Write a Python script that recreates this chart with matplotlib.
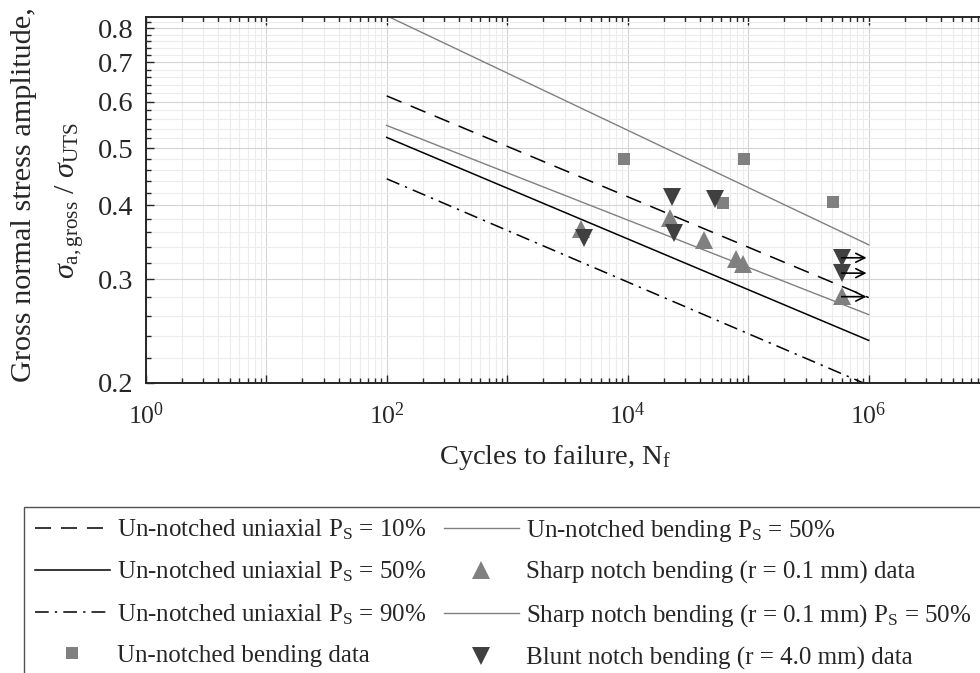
import matplotlib
matplotlib.use("Agg")
import matplotlib.pyplot as plt
import numpy as np
from matplotlib.ticker import FixedLocator, FixedFormatter, NullFormatter, LogLocator

plt.rcParams['font.family'] = ['Liberation Serif', 'DejaVu Serif']
plt.rcParams['mathtext.fontset'] = 'custom'
plt.rcParams['mathtext.rm'] = 'Liberation Serif'
plt.rcParams['mathtext.it'] = 'Liberation Serif:italic'
plt.rcParams['mathtext.bf'] = 'Liberation Serif:bold'

# ---------------- data ----------------
curve_N = [1e2, 1e6]
uni_ps10 = [0.614, 0.279]
uni_ps50 = [0.522, 0.236]
uni_ps90 = [0.444, 0.198]
bend_ps50 = [0.840, 0.343]
sharp_ps50 = [0.547, 0.261]

unnotched_N = [9310, 92900, 61400, 502000]
unnotched_S = [0.480, 0.480, 0.404, 0.406]

sharp_N = [4070, 22400, 43000, 78700, 91000, 597000]
sharp_S = [0.365, 0.381, 0.349, 0.325, 0.318, 0.281]

blunt_N = [4340, 23400, 24200, 53300, 597000, 597000]
blunt_S = [0.352, 0.414, 0.359, 0.410, 0.326, 0.307]

runout_N = [597000, 597000, 597000]
runout_S = [0.326, 0.307, 0.280]
runout_end = 9.6e5

x_major = [1e0, 1e1, 1e2, 1e3, 1e4, 1e5, 1e6, 1e7]
x_labels = ['$10^{0}$', '', '$10^{2}$', '', '$10^{4}$', '', '$10^{6}$', '']
y_major = [0.2, 0.3, 0.4, 0.5, 0.6, 0.7, 0.8]
y_labels = ['0.2', '0.3', '0.4', '0.5', '0.6', '0.7', '0.8']
y_minor = [0.22, 0.24, 0.26, 0.28, 0.32, 0.34, 0.36, 0.38, 0.42, 0.44, 0.46, 0.48,
           0.52, 0.54, 0.56, 0.58, 0.62, 0.64, 0.66, 0.68, 0.72, 0.74, 0.76, 0.78, 0.82]

labels = {
    'u10': 'Un-notched uniaxial P$_\\mathrm{S}$ = 10%',
    'u50': 'Un-notched uniaxial P$_\\mathrm{S}$ = 50%',
    'u90': 'Un-notched uniaxial P$_\\mathrm{S}$ = 90%',
    'ubd': 'Un-notched bending data',
    'ub50': 'Un-notched bending P$_\\mathrm{S}$ = 50%',
    'sd': 'Sharp notch bending (r = 0.1 mm) data',
    's50': 'Sharp notch bending (r = 0.1 mm) P$_\\mathrm{S}$ = 50%',
    'bd': 'Blunt notch bending (r = 4.0 mm) data',
}

# ---------------- figure ----------------
W, H = 980, 673
fig = plt.figure(figsize=(W / 100, H / 100), dpi=100)
ax = fig.add_axes([145.7 / W, 1 - 382.7 / H, 843.5 / W, 365.4 / H])
ax.set_xscale('log')
ax.set_yscale('log')
ax.set_xlim(1e0, 1e7)
ax.set_ylim(0.2, 0.835)

gray = '#808080'
dark = '#404040'
dash_style = (0, (10.5, 6.5))
dashdot_style = (0, (9, 4, 1.5, 4))

h_u10, = ax.plot(curve_N, uni_ps10, color='k', lw=1.1, linestyle=dash_style)
h_u50, = ax.plot(curve_N, uni_ps50, color='k', lw=1.1, linestyle='-')
h_u90, = ax.plot(curve_N, uni_ps90, color='k', lw=1.1, linestyle=dashdot_style)
h_ub50, = ax.plot(curve_N, bend_ps50, color=gray, lw=1.0)
h_s50, = ax.plot(curve_N, sharp_ps50, color=gray, lw=1.0)

h_ubd, = ax.plot(unnotched_N, unnotched_S, 's', color=gray, markersize=8.5, markeredgewidth=0, linestyle='none')
h_sd, = ax.plot(sharp_N, sharp_S, '^', color=gray, markersize=13, markeredgewidth=0, linestyle='none')
h_bd, = ax.plot(blunt_N, blunt_S, 'v', color=dark, markersize=13, markeredgewidth=0, linestyle='none')

for n, s in zip(runout_N, runout_S):
    ax.annotate('', xy=(runout_end, s), xytext=(n, s),
                arrowprops=dict(arrowstyle='->', color='k', lw=1.2,
                                mutation_scale=16, shrinkA=0, shrinkB=0))

# ticks
ax.xaxis.set_major_locator(FixedLocator(x_major))
ax.xaxis.set_major_formatter(FixedFormatter(x_labels))
ax.xaxis.set_minor_locator(LogLocator(base=10, subs=np.arange(2, 10)))
ax.xaxis.set_minor_formatter(NullFormatter())
ax.yaxis.set_major_locator(FixedLocator(y_major))
ax.yaxis.set_major_formatter(FixedFormatter(y_labels))
ax.yaxis.set_minor_locator(FixedLocator(y_minor))
ax.yaxis.set_minor_formatter(NullFormatter())

ax.tick_params(which='both', direction='in', top=True, right=True, colors='#262626',
               width=1.0)
ax.tick_params(which='major', length=6)
ax.tick_params(which='minor', length=3.5)
ax.tick_params(axis='x', which='major', pad=14, labelsize=18.5)
ax.tick_params(axis='y', which='major', pad=9, labelsize=20.5)
for lab in ax.get_xticklabels() + ax.get_yticklabels():
    lab.set_color('#262626')
for sp in ax.spines.values():
    sp.set_linewidth(1.4)
    sp.set_color('#262626')

ax.grid(True, which='major', color='#d4d4d4', lw=0.8)
ax.grid(True, which='minor', color='#ececec', lw=0.8)
ax.set_axisbelow(True)

# labels
fig.text(555 / W, 1 - 458 / H, 'Cycles to failure, N$_\\mathrm{f}$', fontsize=20.5,
         ha='center', va='center', color='#262626')
fig.text(24 / W, 1 - 195 / H, 'Gross normal stress amplitude,', fontsize=21.8,
         rotation=90, ha='center', va='center', color='#262626')
fig.text(70 / W, 1 - 200 / H,
         '$\\sigma_{\\mathrm{a,gross}}$ / $\\sigma_{\\mathrm{UTS}}$', fontsize=21.8,
         rotation=90, ha='center', va='center', color='#262626')

handles = [h_u10, h_u50, h_u90, h_ubd, h_ub50, h_sd, h_s50, h_bd]
keys = ['u10', 'u50', 'u90', 'ubd', 'ub50', 'sd', 's50', 'bd']
leg = fig.legend(handles, [labels[k] for k in keys], ncol=2, loc='upper left',
                 bbox_to_anchor=(24 / W, 1 - 507 / H), bbox_transform=fig.transFigure,
                 fontsize=18.0, frameon=True, fancybox=False, borderaxespad=0,
                 handlelength=3.0, handletextpad=0.3, columnspacing=0.7,
                 labelspacing=0.71, borderpad=0.42)
leg.get_frame().set_edgecolor('#262626')
leg.get_frame().set_linewidth(1.0)
for t in leg.get_texts():
    t.set_color('#262626')

fig.savefig('out.png', dpi=100)
